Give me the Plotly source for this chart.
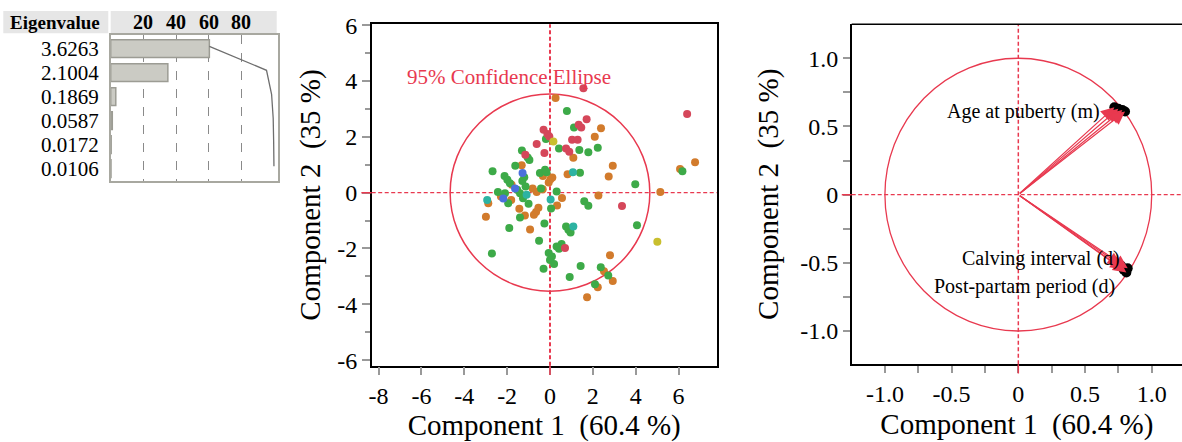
import plotly.graph_objects as go
import numpy as np

W, H = 1182, 442
FONT = "Liberation Serif"
RED = "#e8394f"

# ---------------- data ----------------
eigenvalues = [3.6263, 2.1004, 0.1869, 0.0587, 0.0172, 0.0106]
eigen_labels = ["3.6263", "2.1004", "0.1869", "0.0587", "0.0172", "0.0106"]
pct_ticks = [20, 40, 60, 80]

orange_x = [0.26, 2.38, 2.09, 1.09, 6.77, 6.07, 2.93, -1.32, 0.82, 2.74, -0.33, 0.11, 0.02, -0.06, -1.79,
            -2.29, -0.81, -0.62, -0.34, 5.15, 2.26, -2.88, -1.81, 0.56, 0.33, -0.54, -0.65, -1.43, -2.99,
            -1.17, -0.93, 2.80, 2.52, 2.93, 2.23, 1.73, -0.75]
orange_y = [3.39, 2.31, 2.00, 1.25, 1.09, 0.85, 0.96, 0.98, 0.66, 0.58, 0.60, 0.54, 0.48, 0.36, 0.28,
            -0.14, 0.15, 0.02, 0.12, 0.02, -0.10, -0.38, -0.26, -0.19, -0.46, -0.54, -0.69, -0.58, -0.86,
            -0.82, -1.32, -2.24, -2.82, -3.17, -3.39, -3.75, -0.79]
green_x = [0.79, 1.12, -0.19, 0.42, 1.37, 1.79, 2.23, -1.31, -1.04, -0.96, 6.18, -1.62, -2.68, -0.47,
           -0.23, -0.16, 1.40, -2.12, -1.99, -1.87, -1.20, -1.29, 3.98, -1.53, -2.43, -2.10, -1.14, -0.42,
           0.31, -1.40, -1.26, -1.95, 1.60, 1.79, -1.00, 0.05, -1.40, 4.06, -0.26, -1.90, 0.75, 0.86, 0.96,
           -0.51, 0.54, 0.31, 0.42, -2.71, -0.06, 0.09, 0.00, 0.19, -0.30, 1.43, 2.37, 2.72, 0.92, 2.10]
green_y = [2.92, 2.33, 1.92, 1.58, 1.53, 1.45, 1.61, 1.51, 1.26, 1.17, 0.77, 0.96, 0.77, 0.70,
           0.82, 0.73, 0.71, 0.60, 0.46, 0.34, 0.55, 0.42, 0.30, 0.10, 0.02, -0.02, 0.22, 0.15,
           0.04, -0.02, -0.20, -0.38, -0.31, -0.47, -0.40, -0.57, -0.89, -1.17, -1.11, -1.27, -1.21, -1.33, -1.43,
           -1.72, -1.84, -1.93, -2.01, -2.18, -2.16, -2.29, -2.41, -2.56, -2.73, -2.63, -2.67, -2.97, -3.02, -3.28]
red_x = [6.40, 1.71, 1.34, 1.46, -0.30, -0.12, -0.03, 1.03, 1.29, -0.62, 0.75, 0.90, -0.26, -1.15, 3.36, 0.70, 1.56]
red_y = [2.82, 2.63, 2.43, 2.33, 2.25, 2.10, 2.01, 1.89, 1.89, 1.74, 1.58, 1.46, 1.42, 1.36, -0.48, -1.98, 3.74]
yellow_x = [0.16, 5.01]
yellow_y = [1.83, -1.76]
teal_x = [1.07, -2.93, -1.09, 0.03, 1.09]
teal_y = [0.73, -0.26, -0.08, -0.25, -1.21]
blue_x = [-1.28, -1.63, -2.18]
blue_y = [0.70, 0.15, -0.21]

ellipse_semi_x = 4.66
ellipse_semi_y = 3.53

score_x_ticks = [-8, -6, -4, -2, 0, 2, 4, 6]
score_x_text = ["-8", "-6", "-4", "-2", "0", "2", "4", "6"]
score_y_ticks = [-6, -4, -2, 0, 2, 4, 6]
score_y_text = ["-6", "-4", "-2", "0", "2", "4", "6"]

load_ticks = [-1.0, -0.5, 0, 0.5, 1.0]
load_text = ["-1.0", "-0.5", "0", "0.5", "1.0"]
load_minor = [-1.25, -0.75, -0.25, 0.25, 0.75, 1.25]

age_x = [0.72, 0.75, 0.78, 0.80]
age_y = [0.64, 0.63, 0.62, 0.61]
repro_x = [0.77, 0.79, 0.81, 0.82]
repro_y = [-0.52, -0.55, -0.57, -0.54]
load_labels = ["Age at puberty (m)", "Calving interval (d)", "Post-partam period (d)"]
load_label_x = [0.625, 0.775, 0.738]
load_label_y = [0.608, -0.465, -0.675]

# ---------------- figure ----------------
def px(x):
    return x / W

def py(y):
    return 1 - y / H

fig = go.Figure()

# eigenvalue table
total = sum(eigenvalues)
pct = [e / total * 100 for e in eigenvalues]
cum = list(np.cumsum(pct))
rows = list(range(len(eigenvalues)))
fig.add_trace(go.Bar(x=pct, y=rows, orientation="h", width=0.74,
                     marker=dict(color="#cbcbc4", line=dict(color="#9c9c94", width=1.5)),
                     xaxis="x", yaxis="y", hoverinfo="skip"))
fig.add_trace(go.Scatter(x=cum, y=[r - 0.1 for r in rows], mode="lines",
                         line=dict(color="#6e6e6e", width=1.3), xaxis="x", yaxis="y", hoverinfo="skip"))

# score plot
groups = [(orange_x, orange_y, "#d27b2c"), (green_x, green_y, "#3daa48"),
          (red_x, red_y, "#d5475a"), (teal_x, teal_y, "#2db3a2"),
          (blue_x, blue_y, "#4a70dc"), (yellow_x, yellow_y, "#c9bf2e")]
for gx, gy, c in groups:
    fig.add_trace(go.Scatter(x=gx, y=gy, mode="markers", marker=dict(color=c, size=8, line=dict(width=0)),
                             xaxis="x2", yaxis="y2"))

# loading plot endpoints (black blobs)
fig.add_trace(go.Scatter(x=age_x + repro_x, y=age_y + repro_y, mode="markers",
                         marker=dict(color="black", size=10), xaxis="x3", yaxis="y3"))

shapes = []
annotations = []

# table header
shapes.append(dict(type="rect", xref="paper", yref="paper", x0=px(3.3), x1=px(108.3), y0=py(33.3), y1=py(11),
                   fillcolor="#e6e6e6", line=dict(width=0), layer="below"))
shapes.append(dict(type="rect", xref="paper", yref="paper", x0=px(110.7), x1=px(276.7), y0=py(33.3), y1=py(11),
                   fillcolor="#e6e6e6", line=dict(width=0), layer="below"))
annotations.append(dict(text="<b>Eigenvalue</b>", xref="paper", yref="paper", x=px(102), y=py(22),
                        xanchor="right", yanchor="middle", showarrow=False,
                        font=dict(family=FONT, size=19, color="black")))
for t in pct_ticks:
    annotations.append(dict(text="<b>%d</b>" % t, xref="x", yref="paper", x=t, y=py(22),
                            xanchor="center", yanchor="middle", showarrow=False,
                            font=dict(family=FONT, size=20, color="black")))

# score plot: ellipse, zero lines
shapes.append(dict(type="circle", xref="x2", yref="y2", x0=-ellipse_semi_x, x1=ellipse_semi_x,
                   y0=-ellipse_semi_y, y1=ellipse_semi_y, line=dict(color=RED, width=1.5), layer="below"))
shapes.append(dict(type="line", xref="x2", yref="y2 domain", x0=0, x1=0, y0=0, y1=1,
                   line=dict(color=RED, width=2, dash="4px,2.5px"), layer="below"))
shapes.append(dict(type="line", xref="x2 domain", yref="y2", x0=0, x1=1, y0=0, y1=0,
                   line=dict(color=RED, width=1.2, dash="4px,2.5px"), layer="below"))
shapes.append(dict(type="line", xref="x2", yref="y2 domain", x0=0, x1=0, y0=-0.027, y1=0,
                   line=dict(color=RED, width=1.5)))
shapes.append(dict(type="line", xref="x2 domain", yref="y2", x0=-0.03, x1=0, y0=0, y1=0,
                   line=dict(color=RED, width=1.5)))
annotations.append(dict(text="95% Confidence Ellipse", xref="x2", yref="y2", x=-6.77, y=4.15,
                        xanchor="left", yanchor="middle", showarrow=False,
                        font=dict(family=FONT, size=21, color=RED)))

# loading plot: circle, zero lines, top frame
shapes.append(dict(type="circle", xref="x3", yref="y3", x0=-1, x1=1, y0=-1, y1=1,
                   line=dict(color=RED, width=1.3), layer="below"))
shapes.append(dict(type="line", xref="x3", yref="y3 domain", x0=0, x1=0, y0=0, y1=1,
                   line=dict(color=RED, width=1.5, dash="4px,2.5px"), layer="below"))
shapes.append(dict(type="line", xref="x3 domain", yref="y3", x0=0, x1=1, y0=0, y1=0,
                   line=dict(color=RED, width=1.3, dash="4px,2.5px"), layer="below"))
shapes.append(dict(type="line", xref="x3", yref="y3 domain", x0=0, x1=0, y0=-0.027, y1=0,
                   line=dict(color=RED, width=1.5)))
shapes.append(dict(type="line", xref="x3 domain", yref="y3", x0=-0.03, x1=0, y0=0, y1=0,
                   line=dict(color=RED, width=1.5)))
shapes.append(dict(type="line", xref="x3 domain", yref="y3 domain", x0=0, x1=1, y0=1, y1=1,
                   line=dict(color="black", width=1.5)))

for ex, ey in zip(age_x + repro_x, age_y + repro_y):
    annotations.append(dict(x=ex, y=ey, ax=0, ay=0, xref="x3", yref="y3", axref="x3", ayref="y3",
                            text="", showarrow=True, arrowhead=2, arrowsize=2.2, arrowwidth=1.2,
                            arrowcolor=RED))
for lab, lx, ly in zip(load_labels, load_label_x, load_label_y):
    annotations.append(dict(text=lab, x=lx, y=ly, xref="x3", yref="y3", xanchor="right", yanchor="middle",
                            showarrow=False, font=dict(family=FONT, size=20, color="black")))

tickfont = dict(family=FONT, size=24, color="black")
titlefont = dict(family=FONT, size=29, color="black")

fig.update_layout(
    width=W, height=H, autosize=False,
    margin=dict(l=0, r=0, t=0, b=0),
    paper_bgcolor="white", plot_bgcolor="white",
    showlegend=False,
    shapes=shapes, annotations=annotations,
    xaxis=dict(domain=[px(110.7), px(277.7)], range=[0, 102.3], showticklabels=False, ticks="",
               tickvals=pct_ticks, showgrid=True, gridcolor="#8a8a8a", griddash="dash", gridwidth=1,
               showline=True, mirror=True, linecolor="#a8a8a0", linewidth=1.5, zeroline=False,
               anchor="y", fixedrange=True),
    yaxis=dict(domain=[py(180.7), py(35)], range=[5.5, -0.57], tickvals=rows, ticktext=eigen_labels,
               ticks="", showgrid=False, zeroline=False, showline=True, mirror=True,
               linecolor="#a8a8a0", linewidth=1.5, ticklabelstandoff=6,
               tickfont=dict(family=FONT, size=21, color="black"), anchor="x"),
    xaxis2=dict(domain=[px(371.7), px(716.7)], range=[-8.32, 7.78], tickvals=score_x_ticks,
                ticktext=score_x_text, ticks="outside", ticklen=8, tickwidth=1.5, tickcolor="#999",
                showline=True, mirror=True, linecolor="black", linewidth=1.5, showgrid=False, zeroline=False,
                tickfont=tickfont, anchor="y2", automargin=False,
                title=dict(text="Component 1\u00a0\u00a0(60.4 %)", font=titlefont, standoff=8)),
    yaxis2=dict(domain=[py(365.7), py(24.3)], range=[-6.2, 6.03], tickvals=score_y_ticks,
                ticktext=score_y_text, ticks="outside", ticklen=8, tickwidth=1.5, tickcolor="#999",
                minor=dict(tickvals=[-5, -3, -1, 1, 3, 5], ticks="outside", ticklen=5, tickcolor="#999",
                           tickwidth=1.5, showgrid=False),
                showline=True, mirror=True, linecolor="black", linewidth=1.5, showgrid=False, zeroline=False,
                tickfont=tickfont, anchor="x2", automargin=False,
                title=dict(text="Component 2\u00a0\u00a0(35 %)", font=titlefont, standoff=8)),
    xaxis3=dict(domain=[px(851.7), 1.0], range=[-1.249, 1.227], tickvals=load_ticks, ticktext=load_text,
                ticks="outside", ticklen=7, tickwidth=1.5, tickcolor="#999",
                minor=dict(tickvals=load_minor, ticks="outside", ticklen=7, tickcolor="#999",
                           tickwidth=1.5, showgrid=False),
                showline=True, mirror=False, linecolor="black", linewidth=1.5, showgrid=False, zeroline=False,
                tickfont=tickfont, anchor="y3", automargin=False,
                title=dict(text="Component 1\u00a0\u00a0(60.4 %)", font=titlefont, standoff=8)),
    yaxis3=dict(domain=[py(364.3), py(24.3)], range=[-1.244, 1.249], tickvals=load_ticks, ticktext=load_text,
                ticks="outside", ticklen=7, tickwidth=1.5, tickcolor="#999",
                minor=dict(tickvals=load_minor, ticks="outside", ticklen=7, tickcolor="#999",
                           tickwidth=1.5, showgrid=False),
                showline=True, mirror=False, linecolor="black", linewidth=1.5, showgrid=False, zeroline=False,
                tickfont=tickfont, anchor="x3", automargin=False,
                title=dict(text="Component 2\u00a0\u00a0(35 %)", font=titlefont, standoff=13)),
)

fig.write_html("out.html", config={"displayModeBar": False},
               post_script="document.body.style.margin='0px';document.body.style.overflow='hidden';")
